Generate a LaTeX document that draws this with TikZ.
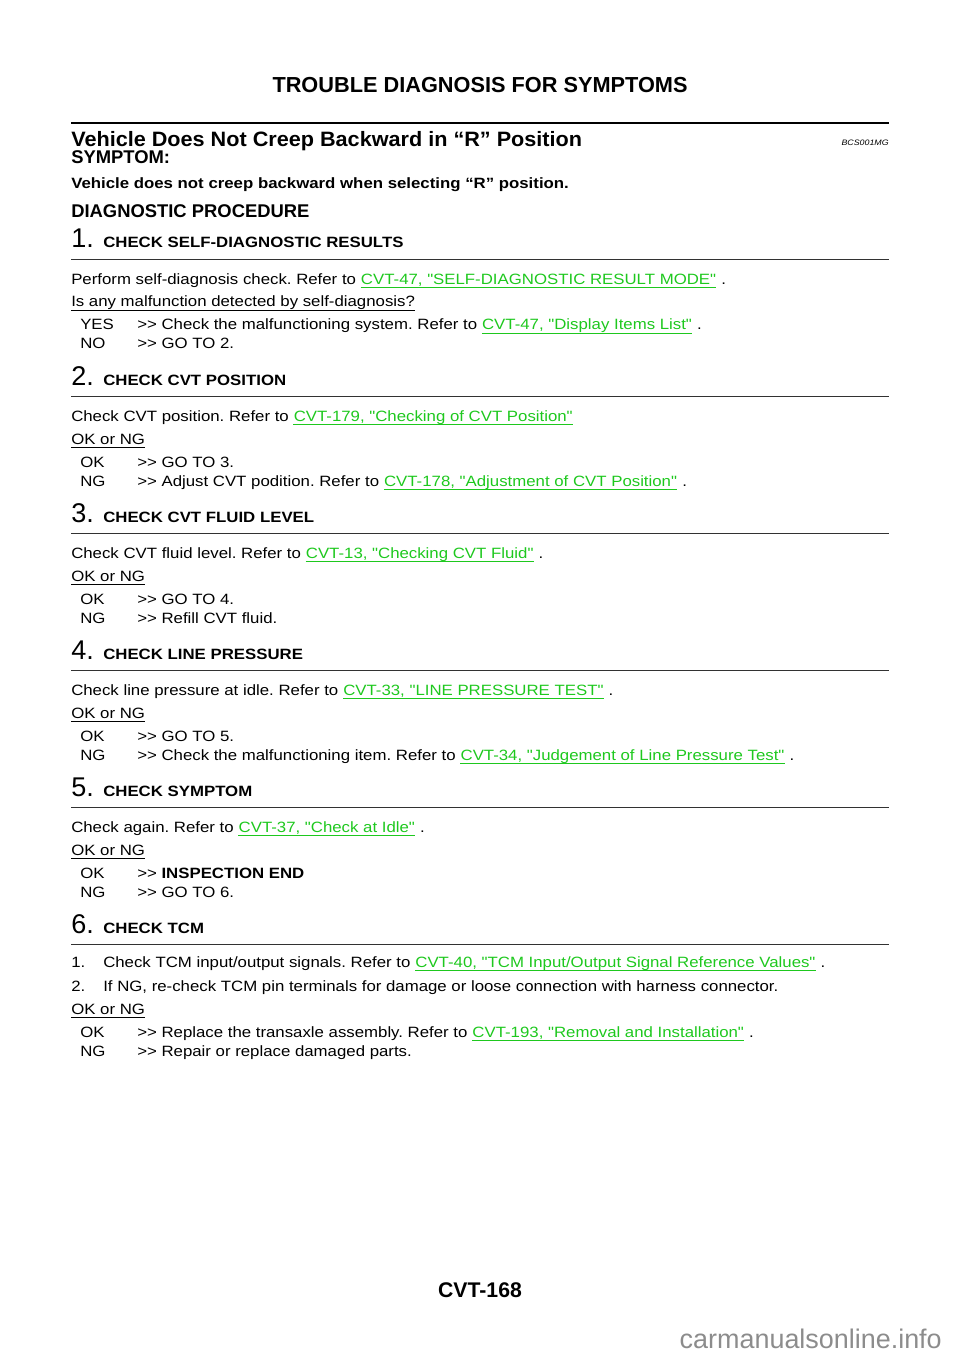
\documentclass[tikz,border=0pt]{standalone}
\usepackage{fontspec}
\usepackage{xcolor}
\usepackage{tikz}
\usetikzlibrary{positioning, calc}
\setmainfont{Liberation Sans}
\newfontfamily\bodyface{Liberation Sans}[FakeStretch=1.125]
\newfontfamily\headface{Liberation Sans}[FakeStretch=1.04]
\definecolor{linkgreen}{RGB}{30, 200, 30}
\definecolor{rulegray}{RGB}{50, 50, 50}
\definecolor{markgray}{RGB}{140, 140, 140}
\frenchspacing
\tikzset{
    txt/.style={anchor=base west, inner sep=0pt, font=\bodyface\fontsize{11.2}{13}\selectfont},
    boldtxt/.style={txt, font=\bodyface\bfseries\fontsize{11.2}{13}\selectfont},
    link/.style={txt, text=linkgreen, xshift=3.3pt},
    numeral/.style={anchor=base west, inner sep=0pt, font=\fontsize{20.3}{22}\selectfont},
    subhead/.style={anchor=base west, inner sep=0pt, font=\bfseries\fontsize{13.8}{15}\selectfont},
    underl/.style={line width=0.75pt},
    secrule/.style={rulegray, line width=1.1pt}
}

\begin{document}
\begin{tikzpicture}[x=0.75pt, y=-0.75pt]
    \useasboundingbox (0, 0) rectangle (960, 1358);

    % Page header
    \node[anchor=base, inner sep=0pt, font=\bfseries\fontsize{16.3}{18}\selectfont] (title) at (480, 92.5) {TROUBLE DIAGNOSIS FOR SYMPTOMS};
    \draw[line width=1.9pt] (71, 123) -- (889, 123);
    \node[anchor=base west, inner sep=0pt, font=\headface\bfseries\fontsize{15.6}{17}\selectfont] (symtitle) at (71, 147) {Vehicle Does Not Creep Backward in “R” Position};
    \node[anchor=base east, inner sep=0pt, font=\bodyface\itshape\fontsize{5.9}{7}\selectfont] (code) at (889, 146) {BCS001MG};
    \node[subhead] (symptom) at (71, 164) {SYMPTOM:};
    \node[boldtxt] (symtext) at (71, 188.5) {Vehicle does not creep backward when selecting “R” position.};
    \node[subhead] (proc) at (71, 217.5) {DIAGNOSTIC PROCEDURE};

    % Step headings and rules
    \foreach \i/\t in {1/CHECK SELF-DIAGNOSTIC RESULTS, 2/CHECK CVT POSITION, 3/CHECK CVT FLUID LEVEL, 4/CHECK LINE PRESSURE, 5/CHECK SYMPTOM, 6/CHECK TCM} {
        \node[numeral] (num\i) at (71, {111 + 137*\i}) {\i.};
        \node[boldtxt] (head\i) at (103, {111 + 137*\i}) {\t};
        \draw[secrule] (71, {122.5 + 137*\i}) -- (889, {122.5 + 137*\i});
    }

    % Step 1
    \node[txt] (s1a) at (71, 284.5) {Perform self-diagnosis check. Refer to};
    \node[link] (s1l1) at (s1a.base east) {CVT-47, "SELF-DIAGNOSTIC RESULT MODE"};
    \node[txt] (s1b) at (s1l1.base east) {\ .};
    \node[txt] (s1q) at (71, 307) {Is any malfunction detected by self-diagnosis?};
    \node[txt] (s1yes) at (80, 330) {YES};
    \node[txt] (s1c) at (137, 330) {>> Check the malfunctioning system. Refer to};
    \node[link] (s1l2) at (s1c.base east) {CVT-47, "Display Items List"};
    \node[txt] (s1d) at (s1l2.base east) {\ .};
    \node[txt] (s1no) at (80, 349) {NO};
    \node[txt] (s1e) at (137, 349) {>> GO TO 2.};

    % Step 2
    \node[txt] (s2a) at (71, 421) {Check CVT position. Refer to};
    \node[link] (s2l1) at (s2a.base east) {CVT-179, "Checking of CVT Position"};
    \node[txt] (s2q) at (71, 444) {OK or NG};
    \node[txt] (s2ok) at (80, 467) {OK};
    \node[txt] (s2b) at (137, 467) {>> GO TO 3.};
    \node[txt] (s2ng) at (80, 486) {NG};
    \node[txt] (s2c) at (137, 486) {>> Adjust CVT podition. Refer to};
    \node[link] (s2l2) at (s2c.base east) {CVT-178, "Adjustment of CVT Position"};
    \node[txt] (s2d) at (s2l2.base east) {\ .};

    % Step 3
    \node[txt] (s3a) at (71, 558) {Check CVT fluid level. Refer to};
    \node[link] (s3l1) at (s3a.base east) {CVT-13, "Checking CVT Fluid"};
    \node[txt] (s3b) at (s3l1.base east) {\ .};
    \node[txt] (s3q) at (71, 581) {OK or NG};
    \node[txt] (s3ok) at (80, 604) {OK};
    \node[txt] (s3c) at (137, 604) {>> GO TO 4.};
    \node[txt] (s3ng) at (80, 623) {NG};
    \node[txt] (s3d) at (137, 623) {>> Refill CVT fluid.};

    % Step 4
    \node[txt] (s4a) at (71, 695) {Check line pressure at idle. Refer to};
    \node[link] (s4l1) at (s4a.base east) {CVT-33, "LINE PRESSURE TEST"};
    \node[txt] (s4b) at (s4l1.base east) {\ .};
    \node[txt] (s4q) at (71, 718) {OK or NG};
    \node[txt] (s4ok) at (80, 741) {OK};
    \node[txt] (s4c) at (137, 741) {>> GO TO 5.};
    \node[txt] (s4ng) at (80, 760) {NG};
    \node[txt] (s4d) at (137, 760) {>> Check the malfunctioning item. Refer to};
    \node[link] (s4l2) at (s4d.base east) {CVT-34, "Judgement of Line Pressure Test"};
    \node[txt] (s4e) at (s4l2.base east) {\ .};

    % Step 5
    \node[txt] (s5a) at (71, 832) {Check again. Refer to};
    \node[link] (s5l1) at (s5a.base east) {CVT-37, "Check at Idle"};
    \node[txt] (s5b) at (s5l1.base east) {\ .};
    \node[txt] (s5q) at (71, 855) {OK or NG};
    \node[txt] (s5ok) at (80, 878) {OK};
    \node[txt] (s5c) at (137, 878) {>>\ \textbf{INSPECTION END}};
    \node[txt] (s5ng) at (80, 897) {NG};
    \node[txt] (s5d) at (137, 897) {>> GO TO 6.};

    % Step 6
    \node[txt] (s6n1) at (71, 967) {1.};
    \node[txt] (s6a) at (103, 967) {Check TCM input/output signals. Refer to};
    \node[link] (s6l1) at (s6a.base east) {CVT-40, "TCM Input/Output Signal Reference Values"};
    \node[txt] (s6b) at (s6l1.base east) {\ .};
    \node[txt] (s6n2) at (71, 991) {2.};
    \node[txt] (s6c) at (103, 991) {If NG, re-check TCM pin terminals for damage or loose connection with harness connector.};
    \node[txt] (s6q) at (71, 1014) {OK or NG};
    \node[txt] (s6ok) at (80, 1037) {OK};
    \node[txt] (s6d) at (137, 1037) {>> Replace the transaxle assembly. Refer to};
    \node[link] (s6l2) at (s6d.base east) {CVT-193, "Removal and Installation"};
    \node[txt] (s6e) at (s6l2.base east) {\ .};
    \node[txt] (s6ng) at (80, 1056) {NG};
    \node[txt] (s6f) at (137, 1056) {>> Repair or replace damaged parts.};

    % Underlines
    \foreach \n in {s1l1, s1l2, s2l1, s2l2, s3l1, s4l1, s4l2, s5l1, s6l1, s6l2}
        \draw[underl, linkgreen] ([yshift=-2.3pt]\n.base west) -- ([yshift=-2.3pt]\n.base east);
    \foreach \n in {s1q, s2q, s3q, s4q, s5q, s6q}
        \draw[underl] ([yshift=-2.3pt]\n.base west) -- ([yshift=-2.3pt]\n.base east);

    % Page footer
    \node[anchor=base, inner sep=0pt, font=\bfseries\fontsize{15.9}{18}\selectfont] (pageno) at (480, 1297.5) {CVT-168};
    \node[anchor=base east, inner sep=0pt, text=markgray, font=\fontsize{20.2}{22}\selectfont] (site) at (942, 1348) {carmanualsonline.info};
\end{tikzpicture}
\end{document}
